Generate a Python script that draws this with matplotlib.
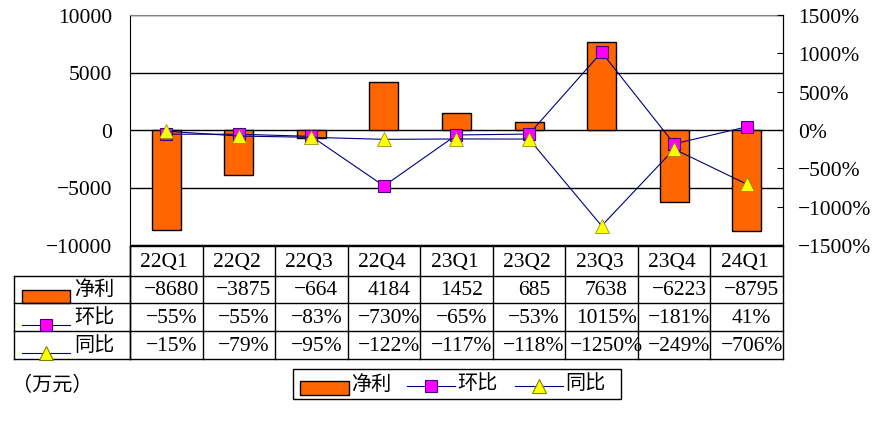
import matplotlib
matplotlib.use("Agg")
import matplotlib.pyplot as plt
from matplotlib.lines import Line2D
from matplotlib.patches import Rectangle
from matplotlib.transforms import blended_transform_factory
import numpy as np

plt.rcParams['font.family'] = ['Liberation Serif', 'Noto Sans CJK SC']
plt.rcParams['axes.unicode_minus'] = True

categories = ['22Q1', '22Q2', '22Q3', '22Q4', '23Q1', '23Q2', '23Q3', '23Q4', '24Q1']
net_profit = [-8680, -3875, -664, 4184, 1452, 685, 7638, -6223, -8795]
qoq = [-55, -55, -83, -730, -65, -53, 1015, -181, 41]
yoy = [-15, -79, -95, -122, -117, -118, -1250, -249, -706]
series_names = ['净利', '环比', '同比']
unit_label = '（万元）'

W, H = 879, 427
ORANGE = '#FF6600'
MAGENTA = '#FF00FF'
YELLOW = '#FFFF00'
NAVY = '#000080'
FS = 15.5
CFS = 14.5

fig = plt.figure(figsize=(W / 100, H / 100), dpi=100)
L, R, T, B = 130, 783, 16, 246
ax = fig.add_axes([L / W, 1 - B / H, (R - L) / W, (B - T) / H])
ax2 = ax.twinx()

x = np.arange(len(categories))
ax.bar(x, net_profit, width=0.4, color=ORANGE, edgecolor='black', linewidth=1.0, zorder=2)
ax.set_xlim(-0.5, len(categories) - 0.5)
ax.set_ylim(-10000, 10000)
ax.set_yticks([-10000, -5000, 0, 5000, 10000])
ax.yaxis.set_major_formatter(lambda v, p: f'{v:.0f}'.replace('-', '\u2212'))
ax.set_xticks([])
ax.set_axisbelow(True)
ax.grid(axis='y', color='black', linewidth=1.0)
ax.tick_params(axis='y', length=0, pad=13, labelsize=FS)
ax.spines['top'].set_color('#808080')
for s in ['left', 'bottom', 'right']:
    ax.spines[s].set_color('black')

ax2.plot(x, qoq, color=NAVY, linewidth=0.8, marker='s', markersize=9,
         markerfacecolor=MAGENTA, markeredgecolor='#400080', markeredgewidth=0.8, zorder=3)
ax2.plot(x, yoy, color=NAVY, linewidth=0.8, marker='^', markersize=10,
         markerfacecolor=YELLOW, markeredgecolor='#808000', markeredgewidth=0.5, zorder=4)
ax2.set_ylim(-1500, 1500)
ax2.set_yticks(np.arange(-1500, 1501, 500))
ax2.yaxis.set_major_formatter(lambda v, p: f'{v:.0f}%'.replace('-', '\u2212'))
ax2.tick_params(axis='y', direction='in', length=4, pad=11, labelsize=FS, color='black')
ax2.spines['top'].set_visible(False)
ax2.spines['left'].set_visible(False)
ax2.spines['bottom'].set_visible(False)
ax2.spines['right'].set_color('black')


def fy(y):
    return 1 - y / H


def fx(xp):
    return xp / W


def hline(x0, x1, y, color='black', lw=1.0):
    fig.add_artist(Line2D([fx(x0), fx(x1)], [fy(y), fy(y)], transform=fig.transFigure,
                          color=color, linewidth=lw))


def vline(xp, y0, y1, lw=1.0):
    fig.add_artist(Line2D([fx(xp), fx(xp)], [fy(y0), fy(y1)], transform=fig.transFigure,
                          color='black', linewidth=lw))


# Data table
trans = blended_transform_factory(ax.transData, fig.transFigure)
rows_y = [247, 277, 304, 332, 360]
tab_left = 14
hline(L, R, rows_y[0])
for y in rows_y[1:]:
    hline(tab_left, R, y)
vline(tab_left, rows_y[1], rows_y[-1])
vline(L, rows_y[0], rows_y[-1])
for i in range(len(categories) + 1):
    xd = i - 0.5
    fig.add_artist(Line2D([xd, xd], [fy(rows_y[0]), fy(rows_y[-1])], transform=trans,
                          color='black', linewidth=1.0))


def fmt_num(v):
    return f'{v}'.replace('-', '\u2212')


def fmt_pct(v):
    return f'{v}%'.replace('-', '\u2212')


off = 5 / 653 * len(categories)
for i, c in enumerate(categories):
    fig.text(i - 0.03, fy(262), c, transform=trans, ha='center', va='center', fontsize=FS)
    fig.text(i + off, fy(291), fmt_num(net_profit[i]), transform=trans, ha='center', va='center', fontsize=FS)
    fig.text(i + off, fy(318.5), fmt_pct(qoq[i]), transform=trans, ha='center', va='center', fontsize=FS)
    fig.text(i + off, fy(346.5), fmt_pct(yoy[i]), transform=trans, ha='center', va='center', fontsize=FS)


def key_bar(x0, y0, x1, y1):
    fig.add_artist(Rectangle((fx(x0), fy(y1)), fx(x1) - fx(x0), fy(y0) - fy(y1),
                             transform=fig.transFigure, facecolor=ORANGE, edgecolor='black', linewidth=1.0))


def key_line(x0, x1, y, marker, mfc, mec, ms):
    fig.add_artist(Line2D([fx(x0), fx(x1)], [fy(y), fy(y)], transform=fig.transFigure,
                          color=NAVY, linewidth=0.8))
    fig.add_artist(Line2D([fx((x0 + x1) / 2)], [fy(y)], transform=fig.transFigure,
                          marker=marker, markersize=ms, markerfacecolor=mfc, markeredgecolor=mec,
                          markeredgewidth=0.8, linestyle='none'))


# Row keys in table
key_bar(22, 291, 70, 304)
fig.text(fx(74), fy(290.5), series_names[0], ha='left', va='center', fontsize=CFS)
key_line(22, 70, 326, 's', MAGENTA, '#400080', 9)
fig.text(fx(74), fy(318.5), series_names[1], ha='left', va='center', fontsize=CFS)
key_line(22, 70, 354, '^', YELLOW, '#808000', 10)
fig.text(fx(74), fy(346.5), series_names[2], ha='left', va='center', fontsize=CFS)

# Unit label
fig.text(fx(12), fy(386), unit_label, ha='left', va='center', fontsize=CFS)

# Legend box
fig.add_artist(Rectangle((fx(293), fy(400)), fx(621) - fx(293), fy(370) - fy(400),
                         transform=fig.transFigure, facecolor='white', edgecolor='black', linewidth=1.0))
key_bar(300, 382, 349, 396)
fig.text(fx(351), fy(385), series_names[0], ha='left', va='center', fontsize=CFS)
key_line(407, 455, 387, 's', MAGENTA, '#400080', 9)
fig.text(fx(457), fy(385), series_names[1], ha='left', va='center', fontsize=CFS)
key_line(515, 563, 387, '^', YELLOW, '#808000', 10)
fig.text(fx(565), fy(385), series_names[2], ha='left', va='center', fontsize=CFS)

fig.savefig('out.png', dpi=100)
